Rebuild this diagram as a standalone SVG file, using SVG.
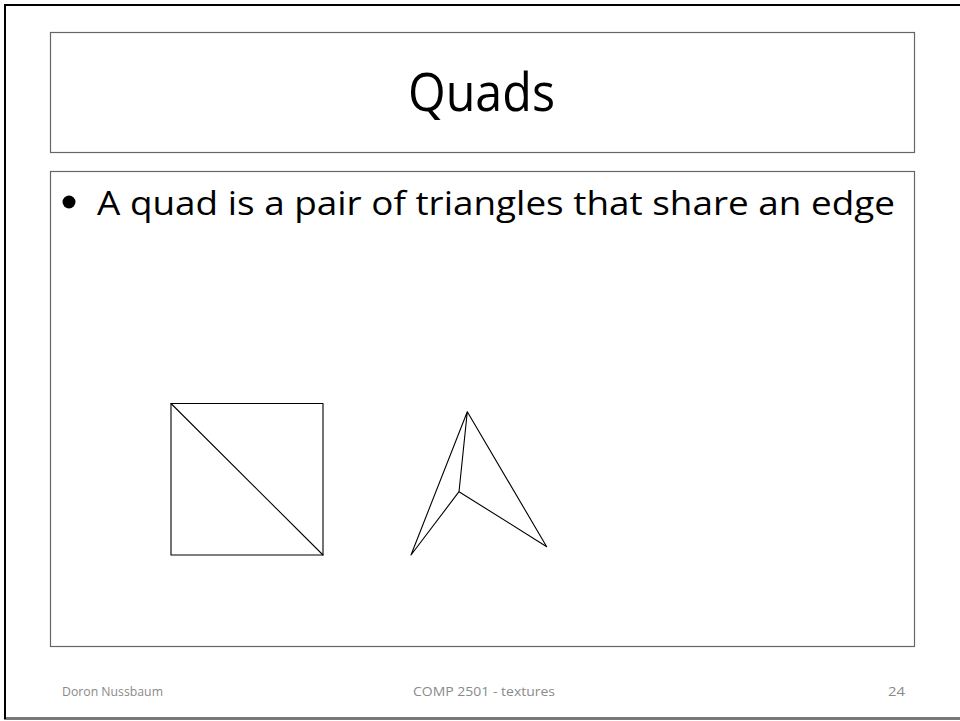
<svg xmlns="http://www.w3.org/2000/svg" width="960" height="721" viewBox="0 0 960 721">
<style>
.frame{fill:none;stroke:#666;stroke-width:1.2}
.ln{fill:none;stroke:#000;stroke-width:1.1;stroke-linecap:round;stroke-linejoin:round}
.t{font-family:"Open Sans","Liberation Sans",sans-serif;fill:#000}
.f{font-family:"Open Sans","Liberation Sans",sans-serif;fill:#8a8a8a;font-size:13px}
</style>
<rect width="960" height="721" fill="#fff"/>
<g id="slide-border">
<path d="M966 5 H5 V718.5 H966" fill="none" stroke="#000" stroke-width="2"/>
<line x1="6" y1="718.5" x2="960" y2="718.5" stroke="#777" stroke-width="2"/>
</g>
<g id="title-box">
<rect class="frame" x="50.5" y="32.5" width="864" height="120"/>
<text class="t" x="481.5" y="111" font-size="53" text-anchor="middle" textLength="147" lengthAdjust="spacingAndGlyphs">Quads</text>
</g>
<g id="content-box">
<rect class="frame" x="50.5" y="171.5" width="864" height="475"/>
<circle cx="69" cy="202" r="6.5" fill="#000"/>
<text class="t" x="97" y="215" font-size="33" textLength="798" lengthAdjust="spacingAndGlyphs">A quad is a pair of triangles that share an edge</text>
</g>
<g id="square-quad">
<rect class="ln" x="171" y="403.5" width="152" height="151.5"/>
<line class="ln" x1="171" y1="403.5" x2="323" y2="555"/>
</g>
<g id="arrow-quad">
<path class="ln" d="M467.3 411.7 L411 555 L459 491.7 Z M467.3 411.7 L546.7 546.7 L459 491.7"/>
</g>
<g id="footer">
<text class="f" x="62" y="696" textLength="101" lengthAdjust="spacingAndGlyphs">Doron Nussbaum</text>
<text class="f" x="413" y="696" textLength="142" lengthAdjust="spacingAndGlyphs">COMP 2501 - textures</text>
<text class="f" x="888" y="696" textLength="17" lengthAdjust="spacingAndGlyphs">24</text>
</g>
</svg>
